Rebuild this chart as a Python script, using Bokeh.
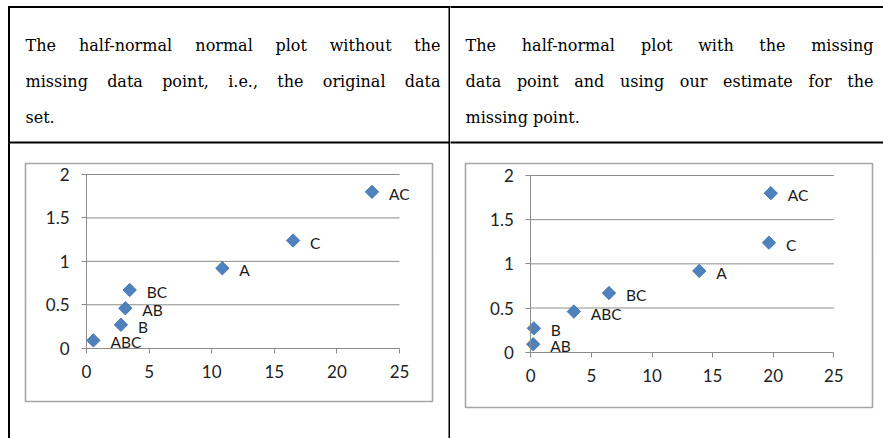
import numpy as np
from bokeh.plotting import figure
from bokeh.models import Range1d, LinearAxis, FixedTicker, CustomJSTickFormatter
from bokeh.layouts import row
from bokeh.embed import file_html
from bokeh.resources import INLINE
from bokeh.core.properties import value

# ---------------- data ----------------
left_labels = ["ABC", "B", "AB", "BC", "A", "C", "AC"]
left_effect = [0.55, 2.75, 3.1, 3.45, 10.85, 16.5, 22.8]
left_quantile = [0.09, 0.27, 0.46, 0.67, 0.92, 1.24, 1.80]

right_labels = ["AB", "B", "ABC", "BC", "A", "C", "AC"]
right_effect = [0.2, 0.25, 3.55, 6.45, 13.9, 19.65, 19.8]
right_quantile = [0.09, 0.27, 0.46, 0.67, 0.92, 1.24, 1.80]

x_ticks = [0, 5, 10, 15, 20, 25]
y_ticks = [0, 0.5, 1, 1.5, 2]
y_grid = [0.5, 1, 1.5, 2]

left_caption = ["The half-normal normal plot without the",
                "missing data point, i.e., the original data",
                "set."]
right_caption = ["The half-normal plot with the missing",
                 "data point and using our estimate for the",
                 "missing point."]

# approximate DejaVu Serif advance widths (em)
W_EM = {' ': .318, '.': .318, ',': .318, '-': .338, 'a': .596, 'b': .640, 'c': .560,
        'd': .640, 'e': .592, 'f': .370, 'g': .640, 'h': .644, 'i': .320, 'j': .310,
        'k': .606, 'l': .320, 'm': .948, 'n': .644, 'o': .602, 'p': .640, 'q': .640,
        'r': .478, 's': .513, 't': .402, 'u': .644, 'v': .565, 'w': .856, 'x': .564,
        'y': .565, 'z': .527, 'T': .683}
CAP_FS = 16.0


def word_w(w):
    return sum(W_EM.get(c, .6) for c in w) * CAP_FS


BLUE = "#4F81BD"
GRID = "#8c8c8c"
BOX = "#a6a6a6"
TICK_FONT = "Lato"


def make_col(W, H, X0, X25, Y0, Y2, xs, ys, labels, caption, cap_left, cap_right,
             box, lines):
    kx = 25.0 / (X25 - X0)
    ky = 2.0 / (Y0 - Y2)
    xa = -X0 * kx
    xb = xa + W * kx
    yb = (Y0 - H) * ky
    yt = Y0 * ky

    def px(X):
        return xa + X * kx

    def py(Y):
        return (Y0 - Y) * ky

    p = figure(width=W, height=H, x_range=Range1d(xa, xb), y_range=Range1d(yb, yt),
               output_backend="svg", toolbar_location=None,
               x_axis_location=None, y_axis_location=None, min_border=0,
               outline_line_color=None, background_fill_color="white",
               border_fill_color="white")
    p.xgrid.grid_line_color = None
    p.ygrid.grid_line_color = None

    # table lines
    for (X1, Y1, X2, Y2_) in lines:
        p.segment(x0=[px(X1)], y0=[py(Y1)], x1=[px(X2)], y1=[py(Y2_)],
                  line_color="black", line_width=2)

    # chart box
    bl, br, bt, bb = box
    p.quad(left=[px(bl)], right=[px(br)], top=[py(bt)], bottom=[py(bb)],
           fill_color=None, line_color=BOX, line_width=1.6)

    # horizontal gridlines from x=0 to the last x tick
    p.segment(x0=[x_ticks[0]] * len(y_grid), y0=y_grid,
              x1=[x_ticks[-1]] * len(y_grid), y1=y_grid,
              line_color=GRID, line_width=1)

    fmt = CustomJSTickFormatter(code="return String(tick)")
    xaxis = LinearAxis(fixed_location=0, ticker=FixedTicker(ticks=x_ticks),
                       bounds=(x_ticks[0], x_ticks[-1]),
                       formatter=fmt, axis_line_color=GRID, major_tick_line_color=GRID,
                       major_tick_out=5, major_tick_in=0, minor_tick_line_color=None,
                       major_label_text_font=TICK_FONT, major_label_text_font_size="17px",
                       major_label_text_color="#222222", major_label_standoff=12)
    p.add_layout(xaxis, "below")
    yaxis = LinearAxis(fixed_location=0, ticker=FixedTicker(ticks=y_ticks),
                       bounds=(y_ticks[0], y_ticks[-1]),
                       formatter=fmt, axis_line_color=GRID, major_tick_line_color=GRID,
                       major_tick_out=5, major_tick_in=0, minor_tick_line_color=None,
                       major_label_text_font=TICK_FONT, major_label_text_font_size="17px",
                       major_label_text_color="#222222", major_label_standoff=12)
    p.add_layout(yaxis, "left")

    p.scatter(xs, ys, marker="square", angle=np.pi / 4, size=9.5,
              fill_color=BLUE, line_color="#3f6fa8", line_width=0.8)
    p.text(xs, ys, text=labels, x_offset=17, y_offset=2, text_baseline="middle",
           text_align="left", text_font=value(TICK_FONT), text_font_size="15.5px",
           text_color="#1a1a1a")

    # caption text (first lines justified)
    baselines = [45.0, 81.0, 116.5]
    tx, ty, tt = [], [], []
    for i, line in enumerate(caption):
        words = line.split(" ")
        if i < len(caption) - 1 and len(words) > 1:
            total = sum(word_w(w) for w in words)
            gap = (cap_right - cap_left - total) / (len(words) - 1)
            X = cap_left
            for w in words:
                tx.append(px(X)); ty.append(py(baselines[i])); tt.append(w)
                X += word_w(w) + gap
        else:
            tx.append(px(cap_left)); ty.append(py(baselines[i])); tt.append(line)
    p.text(tx, ty, text=tt, text_baseline="alphabetic", text_align="left",
           text_font=value("DejaVu Serif"), text_font_size="16px", text_color="black")
    return p


left_lines = [(8, 6.5, 460, 6.5), (8.5, 5.5, 8.5, 440), (449, 5.5, 449, 440),
              (8, 142, 460, 142)]
right_lines = [(-5, 6.5, 440, 6.5), (-5, 142, 440, 142)]

p1 = make_col(450, 438, 86, 399, 347.7, 174, left_effect, left_quantile, left_labels,
              left_caption, 25, 440, (25, 432, 163, 401), left_lines)
p2 = make_col(433, 438, 80.3, 383.3, 351.7, 175, right_effect, right_quantile, right_labels,
              right_caption, 15, 423, (15, 422, 163, 407), right_lines)

layout = row(p1, p2, spacing=0)
open("out.html", "w").write(file_html(layout, INLINE))
